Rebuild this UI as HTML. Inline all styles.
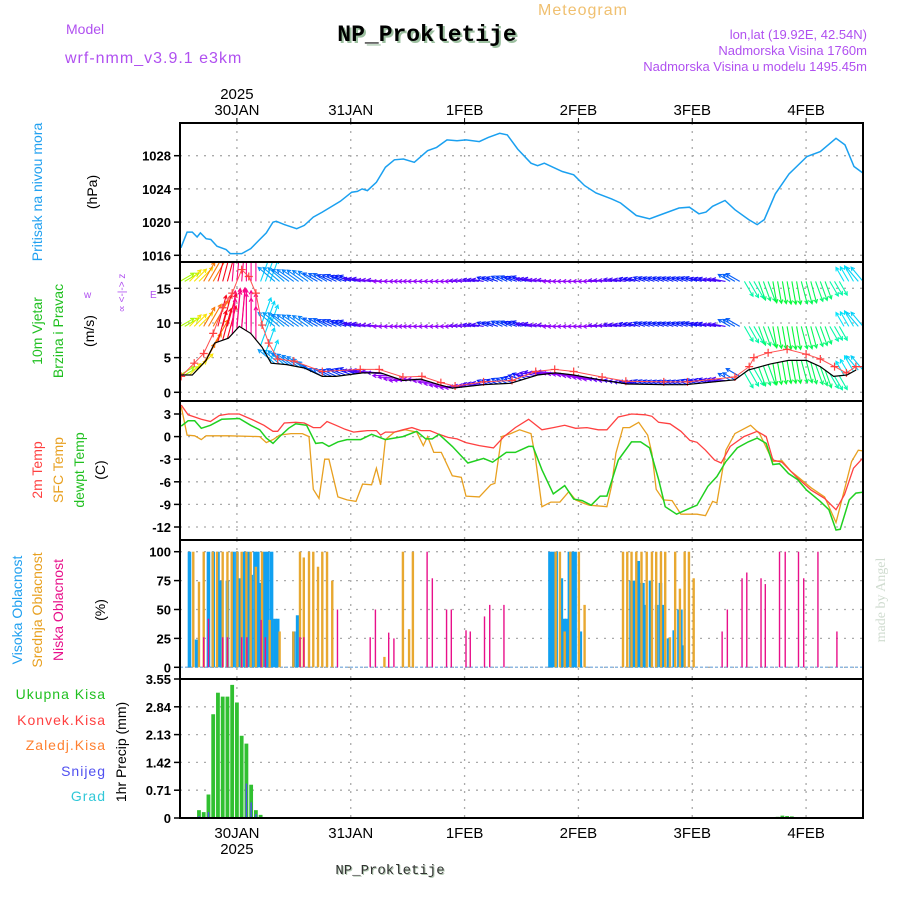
<!DOCTYPE html>
<html><head><meta charset="utf-8"><style>
html,body{margin:0;padding:0;background:#fff;}
svg{display:block;font-family:"Liberation Sans",sans-serif;}
</style></head><body>
<svg id="chart" width="900" height="900" viewBox="0 0 900 900" xmlns="http://www.w3.org/2000/svg">
<g id="header">
<text x="583" y="15" font-size="16" fill="#f0c070" text-anchor="middle" letter-spacing="1">Meteogram</text>
<text x="429" y="43" font-size="23" font-weight="bold" fill="#9cc0a0" text-anchor="middle" font-family="Liberation Mono, monospace">NP_Prokletije</text>
<text x="427" y="41" font-size="23" font-weight="bold" fill="#000" text-anchor="middle" font-family="Liberation Mono, monospace">NP_Prokletije</text>
<text x="66" y="34" font-size="14" fill="#b050f0">Model</text>
<text x="65" y="63" font-size="16" fill="#b050f0" letter-spacing="1">wrf-nmm_v3.9.1 e3km</text>
<text x="867" y="39" font-size="13" fill="#b050f0" text-anchor="end">lon,lat (19.92E, 42.54N)</text>
<text x="867" y="55" font-size="13" fill="#b050f0" text-anchor="end">Nadmorska Visina 1760m</text>
<text x="867" y="71" font-size="13" fill="#b050f0" text-anchor="end">Nadmorska Visina u modelu 1495.45m</text>
</g>
<g id="axes-labels">
<text transform="translate(42,192) rotate(-90)" font-size="14" fill="#20a0f0" text-anchor="middle">Pritisak na nivou mora</text>
<text transform="translate(97,192) rotate(-90)" font-size="14" fill="#000" text-anchor="middle">(hPa)</text>
<text transform="translate(42,331) rotate(-90)" font-size="14" fill="#20c020" text-anchor="middle">10m Vjetar</text>
<text transform="translate(63,331) rotate(-90)" font-size="14" fill="#20c020" text-anchor="middle">Brzina i Pravac</text>
<text transform="translate(94,331) rotate(-90)" font-size="14" fill="#000" text-anchor="middle">(m/s)</text>
<text x="84" y="298" font-size="10" fill="#b050f0">w</text>
<text x="150" y="298" font-size="10" fill="#b050f0">E</text>
<text transform="translate(125,293) rotate(-90)" font-size="10" fill="#b050f0" text-anchor="middle">∝ &lt;-|-&gt; z</text>
<text transform="translate(42,470) rotate(-90)" font-size="14" fill="#ff4040" text-anchor="middle">2m Temp</text>
<text transform="translate(63,470) rotate(-90)" font-size="14" fill="#e8a020" text-anchor="middle">SFC Temp</text>
<text transform="translate(84,470) rotate(-90)" font-size="14" fill="#20c020" text-anchor="middle">dewpt Temp</text>
<text transform="translate(105,470) rotate(-90)" font-size="14" fill="#000" text-anchor="middle">(C)</text>
<text transform="translate(22,610) rotate(-90)" font-size="14" fill="#20a0f0" text-anchor="middle">Visoka Oblacnost</text>
<text transform="translate(42,610) rotate(-90)" font-size="14" fill="#e8a020" text-anchor="middle">Srednja Oblacnost</text>
<text transform="translate(63,610) rotate(-90)" font-size="14" fill="#e8108a" text-anchor="middle">Niska Oblacnost</text>
<text transform="translate(105,610) rotate(-90)" font-size="14" fill="#000" text-anchor="middle">(%)</text>
<text x="106" y="699" font-size="14" fill="#20c020" text-anchor="end" letter-spacing="1">Ukupna Kisa</text>
<text x="106" y="725" font-size="14" fill="#ff4040" text-anchor="end" letter-spacing="1">Konvek.Kisa</text>
<text x="106" y="750" font-size="14" fill="#ff8030" text-anchor="end" letter-spacing="1">Zaledj.Kisa</text>
<text x="106" y="776" font-size="14" fill="#5050f0" text-anchor="end" letter-spacing="1">Snijeg</text>
<text x="106" y="801" font-size="14" fill="#30c8d8" text-anchor="end" letter-spacing="1">Grad</text>
<text transform="translate(126,752) rotate(-90)" font-size="14" fill="#000" text-anchor="middle">1hr Precip (mm)</text>
<text transform="translate(885,600) rotate(-90)" font-size="14" fill="#d0dcd0" text-anchor="middle" font-family="Liberation Serif, serif">made by Angel</text>
<text x="391" y="875" font-size="14" fill="#b0c8b0" text-anchor="middle" font-family="Liberation Mono, monospace">NP_Prokletije</text>
<text x="390" y="874" font-size="14" fill="#333" text-anchor="middle" font-family="Liberation Mono, monospace">NP_Prokletije</text>
</g>
<g id="plot"></g>
</svg>
<script>
// ---- time axis: hours since 29JAN 12Z ----
const dayLabels = ["30JAN","31JAN","1FEB","2FEB","3FEB","4FEB"];
const dayHours = [12,36,60,84,108,132];
// ---- pressure ----
const presHours = [0.2,1.5,2.6,3.6,4.3,5.5,6.5,7.8,9.7,10.6,13,14.9,16.8,18.2,19.6,20.3,22,24.6,26.2,28.1,30,33.8,36.2,37.4,38.4,39.5,41.4,43.3,45.2,47.1,49.4,52.2,54.1,56.3,58.4,60.3,63.1,65,67.4,69,71.2,74,75.4,76.8,80.6,83,85.3,87.7,91,92.9,96.2,99,100.9,105.2,107.4,109.4,110.9,112.3,114.9,117,119.9,121.7,123.2,125.5,128.4,132.2,135,138.3,140.2,142.1,144];
const presVals = [1016.9,1018.8,1018.8,1018.2,1018.7,1018.0,1017.9,1017.1,1016.7,1016.2,1016.2,1016.8,1017.9,1018.7,1020,1020.1,1019.7,1019.2,1019.6,1020.6,1021.2,1022.5,1023.6,1023.7,1024,1023.8,1024.8,1026.6,1027.5,1027.6,1027.2,1028.6,1029,1029.9,1029.8,1029.9,1029.7,1030.2,1030.7,1030.5,1028.8,1027.1,1026.8,1027.1,1026.1,1025.7,1024.4,1023.5,1022.8,1022.3,1020.8,1020.4,1020.8,1021.7,1021.8,1021,1021.2,1021.9,1022.6,1021.5,1020.3,1019.7,1020.3,1023.4,1025.8,1027.9,1028.5,1030.1,1029.3,1026.7,1025.9];
const presTicks = [1016,1020,1024,1028];
// ---- wind ----
const speedHours = [0.25,2.6,5.5,7.3,10.2,12.5,14.9,17.3,19.2,22.5,26.2,30,32.9,38.5,42.3,47,50.8,54.6,57.4,64,69.7,75.4,79.2,83,88.6,94.3,101.9,106.6,117,119.8,124.5,128.3,132.1,135,137.8,140.6,142.5];
const speedVals = [2.5,2.5,4.6,7.1,7.8,9.5,8.5,6.5,4.2,4.0,3.5,2.3,2.3,2.8,2.8,1.7,1.9,1.1,0.6,1.1,1.3,2.5,2.8,2.5,1.8,1.2,1.1,1.1,1.8,3.2,4.1,4.6,4.6,3.7,2.3,2.5,3.2];
const gustHours = [0.25,3,5,7,9,11,13,14.5,16,17.3,18.7,20.6,24,30,38,42,47,51,55,58,64,70,75,79,83,89,94,102,107,117,120,121,124,128,132,135,138,140.5,142.5,144];
const gustVals = [2.3,4.2,5.6,8.5,12.2,14.3,17.7,16.7,14.3,9.7,7.1,4.8,4.5,3.0,3.3,3.3,2.2,2.3,1.4,0.9,1.5,1.7,3.0,3.3,3.0,2.2,1.6,1.5,1.5,2.2,3.7,5,5.7,6.2,5.5,4.8,3.7,2.8,3.7,3.7];
const dirHours = [0,3,6,9,12,15,18,21,24,27,30,33,36,39,42,45,48,51,54,57,60,63,66,69,72,75,78,81,84,87,90,93,96,99,102,105,108,111,114,117,120,123,126,129,132,135,138,141,144];
const dirVals = [240,225,210,195,185,180,200,130,125,125,120,115,110,100,95,90,90,90,90,90,95,100,110,115,110,100,95,90,90,90,95,100,105,110,110,110,110,105,100,120,330,340,350,350,345,340,330,150,140];
const upperLevels = [16,9.5];
const windTicks = [0,5,10,15];
// ---- temperature ----
const t2Hours = [0.25,1.7,3.1,4.5,6.4,8.3,10.2,12.5,15.4,17.7,19.6,20.6,22,24.4,26.2,28.1,29.6,31,32.9,34.8,36.6,38.1,39.5,41.4,42.3,43.3,45.2,47,48.9,50.8,52.7,54.6,56.5,58.4,60.3,63.1,66.1,68.3,70.7,73.5,76.3,78.7,81.1,83.4,85.8,88.2,90,92.4,95.2,98.1,99.5,100.9,103.3,105.6,107.5,109,110.8,112.7,114.1,116,118.9,121.7,123.6,125,126.9,128.8,130.2,133.05,135.9,138.3,140.1,142,143.9];
const t2Vals = [4.2,2.9,2.6,2.3,2,2.8,3,3,2.2,1.5,0.7,0.7,1.8,1.9,1.8,1.2,1.2,2,1.5,0.97,0.6,0.7,0.8,0.8,0.2,0.6,0.6,0.9,1.2,0.8,0.8,0.3,-0.1,-0.3,-0.8,-1.2,-1.5,0,1.2,2.3,0.9,1.2,1.5,1.1,1.2,0.9,0.9,2.6,3,2.9,2.7,1.9,1.7,0.7,-0.5,-0.75,-1.8,-3.1,-3.5,-1.3,0,0.7,0,-3.1,-3.4,-4.6,-5.5,-7.1,-8.2,-9.7,-7.7,-4.2,-2.9];
const dewHours = [0.25,1.7,3.1,4.5,6.4,8.8,12.5,14.9,16.8,18.2,19.6,21,22.9,24.4,26.7,28.6,30,31.4,33.3,35.2,38.1,40.4,43.3,47,49.9,51.8,53.2,54.6,57.4,60.7,64,65.9,68.8,70.7,73.5,74.4,76.3,78.7,81.1,83,84.8,86.7,88.6,90,92.4,95.2,97.1,99,100.9,102.3,104.7,107.5,109,111.3,113.2,115.1,117.5,119.8,121.7,123.6,125,126.4,128.3,130.2,132.1,135,136.8,138.3,139.2,141.1,142.5,143.9];
const dewVals = [1.4,2.1,2.1,1.1,1.5,2.3,2.4,1.5,0.9,-0.2,-0.9,0,1.1,1.7,1.5,-0.9,-0.8,-1.3,-0.7,-0.4,-0.4,0.3,-0.4,0,0.7,-0.3,-0.3,0.3,-1.3,-3.5,-2.9,-3.4,-2.1,-2.1,-1.3,-1.3,-4.4,-7.6,-6.5,-8.3,-8.5,-9.1,-7.9,-7.9,-3.1,-0.7,-0.7,-1.5,-5.7,-9.3,-10.3,-9.5,-9.1,-6.6,-5.3,-3.3,-1.5,-0.7,-0.2,-0.9,-3.7,-3.6,-4.9,-5.7,-7.1,-8.6,-9.7,-12.4,-12.3,-8.4,-7.5,-7.4];
const sfcHours = [0.25,1.5,3.1,4.5,5.5,10.2,16.8,18.2,19.6,21,23.4,25.8,27.2,28.1,29.3,30.5,31.4,33.3,35.2,37.1,38.5,40.4,41.4,42.3,43.3,45.2,47.5,49.9,51.3,52.2,53.5,55.1,57.4,59.3,60.3,63.1,65.5,66.4,67.8,69.7,71.6,74,74.9,76.3,78.2,80.1,82,83.4,85.3,86.3,90,91,91.9,93.4,94.8,96.7,98.6,99.5,100.4,101.9,103.75,105.6,109,110.8,112.3,113.2,115.1,117,120.3,122.2,125,126.9,128.8,130.2,133.05,135.9,138.3,139.7,141.6,143,143.9];
const sfcVals = [4,0.2,0.1,-0.4,0.1,0.1,0,-0.8,-0.4,0.2,0.4,0.4,0,-7,-8.2,-3,-3,-8,-8.4,-8.6,-6.3,-6.4,-4.2,-6.4,-0.4,0.6,0.9,0.6,-1.2,0,-2.1,-2.1,-5.2,-5.4,-7.9,-8,-6.4,-6.2,0,0.4,0.9,0.4,-2.7,-9.3,-8.7,-8.7,-7.3,-8.4,-8.9,-9.1,-9.3,-6.5,-2.2,1.2,1.2,1.9,0.2,-2.2,-7,-8.4,-8.5,-10.3,-10.3,-10.5,-8.6,-8.8,-1.8,0.4,1.5,0.4,-3.3,-3.2,-4.6,-5.3,-6.8,-8,-11.4,-8,-3.3,-1.8,-1.9];
const tempTicks = [3,0,-3,-6,-9,-12];
// ---- clouds (%) ----
const highHours = [2,3.5,6,7,8,8.6,10,11.2,12,12.7,13.6,14.3,15,15.8,16.4,16.8,17.8,18.5,19.3,20,20.6,24,24.8,78,78.7,79.3,80.4,81,81.5,82.1,82.7,83.3,84.4,95.1,95.7,96.2,96.6,97.1,97.6,98.1,99.2,100.5,101.3,101.9,103,104.2,105.2,105.6,106.1];
const highVals = [100,24,100,100,100,75,75,100,100,77,100,100,80,100,100,73,100,100,100,42,42,31,45,100,100,100,77,42,42,100,100,100,31,75,75,75,92,73,73,54,75,54,73,54,25,32,50,50,19];
const midHours = [2.8,4,5,6.9,7.8,9,10,10.9,12.1,13,14,14.9,16,17.3,18.9,21,23.9,25.3,26.1,27.2,28.1,29.1,30,31,32.1,43.1,47,48.3,49.1,79.2,80.1,81.1,82.3,84.1,85.3,93.4,94.3,95.2,96.2,97.3,98.4,99.5,100.4,101.4,102.3,103.3,104.4,105.4,106.4,107.3,108.3];
const midVals = [100,74,100,100,100,100,100,100,100,100,100,100,87,100,41,31,31,100,95,100,100,87,100,100,75,9,100,33,100,100,100,31,100,100,54,100,100,100,100,100,100,100,100,100,100,26,100,68,100,100,77];
const lowHours = [5,6,9,10,13,14.1,17.1,18,25.3,26.1,33.2,40.1,41.2,44,45.1,52.1,53.2,56.2,57.2,60.3,61.2,64.2,65.3,68.3,114.3,115.4,118.5,119.5,122.5,123.4,126.4,127.6,130.4,131.5,134.5,138.5];
const lowVals = [26,42,26,26,26,26,41,26,26,26,50,26,50,30,25,100,77,50,50,32,31,44,54,54,31,50,77,82,77,72,100,100,100,77,100,31];
const cloudTicks = [0,25,50,75,100];
// ---- precipitation (mm/h) ----
const rainHours = [4,5,6,7,8,9,10,11,12,13,14,15,16,17,126,127,128,129];
const rainVals = [0.2,0.15,0.6,2.65,3.2,3.1,3.1,3.4,2.95,2.1,1.9,0.85,0.2,0.08,0.03,0.06,0.05,0.04];
const snowHours = [4,6,14,15,16];
const snowVals = [0.05,0.15,0.88,0.4,0.1];
const precipTicks = [0,0.71,1.42,2.13,2.84,3.55];

const NS = "http://www.w3.org/2000/svg";
const plot = document.getElementById("plot");
const X0 = 180, X1 = 863, HMAX = 144;
const xOf = h => X0 + (h / HMAX) * (X1 - X0);
const lin = (v0, y0, v1, y1) => v => y0 + (v - v0) * (y1 - y0) / (v1 - v0);
const yP = lin(1016, 255.3, 1028, 155.7);
const yW = lin(0, 392.3, 15, 288.3);
const yT = lin(3, 414, -12, 527);
const yC = lin(0, 667.3, 100, 551.7);
const yR = lin(0, 818, 3.55, 679);
const panels = [[123,262],[262,401],[401,540],[540,679],[679,818]];
const panelNames = ["pressure-panel","wind-panel","temperature-panel","cloud-panel","precip-panel"];

function add(parent, tag, attrs, name) {
  const el = document.createElementNS(NS, tag);
  for (const k in attrs) el.setAttribute(k, attrs[k]);
  
  
  parent.appendChild(el);
  return el;
}
function interp(hs, vs, h) {
  if (h <= hs[0]) return vs[0];
  for (let i = 1; i < hs.length; i++) if (h <= hs[i]) return vs[i-1] + (vs[i]-vs[i-1])*(h-hs[i-1])/(hs[i]-hs[i-1]);
  return vs[vs.length-1];
}
function pathOf(hs, vs, yf) {
  return hs.map((h, i) => (i ? "L" : "M") + xOf(h).toFixed(1) + "," + yf(vs[i]).toFixed(1)).join(" ");
}

// grids
panels.forEach((p, pi) => {
  const g = add(plot, "g", {}, panelNames[pi]);
  dayHours.forEach(h => {
    add(g, "line", {x1: xOf(h), x2: xOf(h), y1: p[0], y2: p[1], stroke: "#aaa", "stroke-width": 1.3, "stroke-dasharray": "2,6"}, "vertical-grid-line");
  });
});
function hgrid(ticks, yf, name, fmt, dash) {
  const g = add(plot, "g", {}, name);
  ticks.forEach(t => {
    const y = yf(t);
    add(g, "line", {x1: X0, x2: X1, y1: y, y2: y, stroke: "#aaa", "stroke-width": 1.3, "stroke-dasharray": dash || "2,6"}, "horizontal-grid-line");
    add(g, "line", {x1: X0 - 6, x2: X0, y1: y, y2: y, stroke: "#000", "stroke-width": 1.5}, "y-tick");
    const tx = add(g, "text", {x: X0 - 9, y: y + 5, "font-size": 13, "font-weight": "bold", "text-anchor": "end", fill: "#000"}, "y-tick-label");
    tx.textContent = fmt ? fmt(t) : String(t);
  });
}
hgrid(presTicks, yP, "pressure-y-axis");
hgrid(windTicks, yW, "wind-y-axis");
hgrid(tempTicks, yT, "temperature-y-axis");
hgrid(cloudTicks, yC, "cloud-y-axis");
hgrid(precipTicks, yR, "precip-y-axis", t => t === 0 ? "0" : t.toFixed(2));

// pressure line
add(plot, "path", {d: pathOf(presHours, presVals, yP), fill: "none", stroke: "#1aa0f0", "stroke-width": 1.5}, "pressure-line");

// wind
const wg = add(plot, "g", {}, "wind-series");
const hueTable = [[0,120],[60,200],[90,275],[110,235],[125,210],[140,190],[150,185],[175,320],[185,330],[195,355],[205,20],[215,35],[225,55],[240,80],[300,170],[330,160],[345,140],[360,120]];
function hueFor(d) {
  for (let i = 1; i < hueTable.length; i++) if (d <= hueTable[i][0]) { const a = hueTable[i-1], b = hueTable[i]; return a[1] + (b[1]-a[1])*(d-a[0])/(b[0]-a[0]); }
  return 120;
}
const clipRect = add(plot, "clipPath", {id: "windclip"}, "wind-clip");
add(clipRect, "rect", {x: X0, y: 263, width: X1 - X0, height: 137}, "wind-clip-rect");
wg.setAttribute("clip-path", "url(#windclip)");
for (let h = 0; h <= HMAX; h++) {
  const d = interp(dirHours, dirVals, Math.round(h / 3) * 3);
  const sp = interp(speedHours, speedVals, h);
  const len = 8 + sp * 3.3;
  const to = (d + 180) * Math.PI / 180;
  const dx = Math.sin(to) * len, dy = -Math.cos(to) * len;
  const col = "hsl(" + hueFor(d).toFixed(0) + ",95%,50%)";
  const bases = [upperLevels[0], upperLevels[1], sp];
  bases.forEach((b, bi) => {
    const x = xOf(h), y = yW(b);
    const ex = x + dx, ey = y + dy;
    const ang = Math.atan2(dy, dx);
    const hl = 4;
    const hx1 = ex - hl * Math.cos(ang - 0.5), hy1 = ey - hl * Math.sin(ang - 0.5);
    const hx2 = ex - hl * Math.cos(ang + 0.5), hy2 = ey - hl * Math.sin(ang + 0.5);
    add(wg, "path", {d: `M${x.toFixed(1)},${y.toFixed(1)}L${ex.toFixed(1)},${ey.toFixed(1)}M${hx1.toFixed(1)},${hy1.toFixed(1)}L${ex.toFixed(1)},${ey.toFixed(1)}L${hx2.toFixed(1)},${hy2.toFixed(1)}`, fill: "none", stroke: col, "stroke-width": 1.1}, "wind-arrow");
  });
}
add(wg, "path", {d: pathOf(gustHours, gustVals, yW), fill: "none", stroke: "#ff5050", "stroke-width": 1}, "gust-line");
gustHours.forEach((h, i) => {
  const x = xOf(h), y = yW(gustVals[i]);
  add(wg, "path", {d: `M${x-4},${y}H${x+4}M${x},${y-4}V${y+4}`, stroke: "#ff4040", "stroke-width": 1.2}, "gust-marker");
});
add(wg, "path", {d: pathOf(speedHours, speedVals, yW), fill: "none", stroke: "#000", "stroke-width": 1.2}, "wind-speed-line");

// temperature
add(plot, "path", {d: pathOf(sfcHours, sfcVals, yT), fill: "none", stroke: "#e8a020", "stroke-width": 1.3}, "sfc-temp-line");
add(plot, "path", {d: pathOf(t2Hours, t2Vals, yT), fill: "none", stroke: "#ff4040", "stroke-width": 1.3}, "temp-2m-line");
add(plot, "path", {d: pathOf(dewHours, dewVals, yT), fill: "none", stroke: "#20d020", "stroke-width": 1.5}, "dewpoint-line");

// clouds
const cg = add(plot, "g", {}, "cloud-bars");
add(cg, "line", {x1: X0, x2: X1, y1: yC(0), y2: yC(0), stroke: "#8fb8e0", "stroke-width": 1.5, "stroke-dasharray": "3,2"}, "cloud-zero-line");
highHours.forEach((h, i) => {
  add(cg, "rect", {x: xOf(h) - 1.8, y: yC(highVals[i]), width: 3.6, height: yC(0) - yC(highVals[i]), fill: "#10a0f0"}, "high-cloud-bar");
});
midHours.forEach((h, i) => {
  add(cg, "rect", {x: xOf(h) - 1.2, y: yC(midVals[i]), width: 2.4, height: yC(0) - yC(midVals[i]), fill: "#e8a830"}, "mid-cloud-bar");
});
lowHours.forEach((h, i) => {
  add(cg, "rect", {x: xOf(h) - 0.7, y: yC(lowVals[i]), width: 1.4, height: yC(0) - yC(lowVals[i]), fill: "#e8108a"}, "low-cloud-bar");
});

// precipitation
const rg = add(plot, "g", {}, "precip-bars");
rainHours.forEach((h, i) => {
  add(rg, "rect", {x: xOf(h) - 1.9, y: yR(rainVals[i]), width: 3.8, height: yR(0) - yR(rainVals[i]), fill: "#30c030"}, "rain-bar");
});
snowHours.forEach((h, i) => {
  add(rg, "rect", {x: xOf(h) - 0.7, y: yR(snowVals[i]), width: 1.4, height: yR(0) - yR(snowVals[i]), fill: "#5050f0"}, "snow-bar");
});
add(rg, "line", {x1: X0, x2: X1, y1: yR(3.55), y2: yR(3.55), stroke: "#000", "stroke-width": 1.5, "stroke-dasharray": "5,3"}, "precip-top-line");
add(rg, "line", {x1: X0, x2: X1, y1: yR(0), y2: yR(0), stroke: "#000", "stroke-width": 1.5, "stroke-dasharray": "5,3"}, "precip-zero-line");

// frames
panels.forEach((p, pi) => {
  add(plot, "rect", {x: X0, y: p[0], width: X1 - X0, height: p[1] - p[0], fill: "none", stroke: "#000", "stroke-width": 2}, panelNames[pi] + "-frame");
});

// x axis labels
const xg = add(plot, "g", {}, "x-axis");
dayHours.forEach((h, i) => {
  const x = xOf(h);
  add(xg, "line", {x1: x, x2: x, y1: 118, y2: 123, stroke: "#000", "stroke-width": 1}, "x-tick-top");
  const t1 = add(xg, "text", {x: x, y: 115, "font-size": 15, "text-anchor": "middle", fill: "#000"}, "x-tick-label-top");
  t1.textContent = dayLabels[i];
  const t2 = add(xg, "text", {x: x, y: 838, "font-size": 15, "text-anchor": "middle", fill: "#000"}, "x-tick-label-bottom");
  t2.textContent = dayLabels[i];
});
const y1 = add(xg, "text", {x: xOf(dayHours[0]), y: 99, "font-size": 15, "text-anchor": "middle", fill: "#000"}, "year-label-top");
y1.textContent = "2025";
const y2 = add(xg, "text", {x: xOf(dayHours[0]), y: 854, "font-size": 15, "text-anchor": "middle", fill: "#000"}, "year-label-bottom");
y2.textContent = "2025";
</script>
</body></html>
